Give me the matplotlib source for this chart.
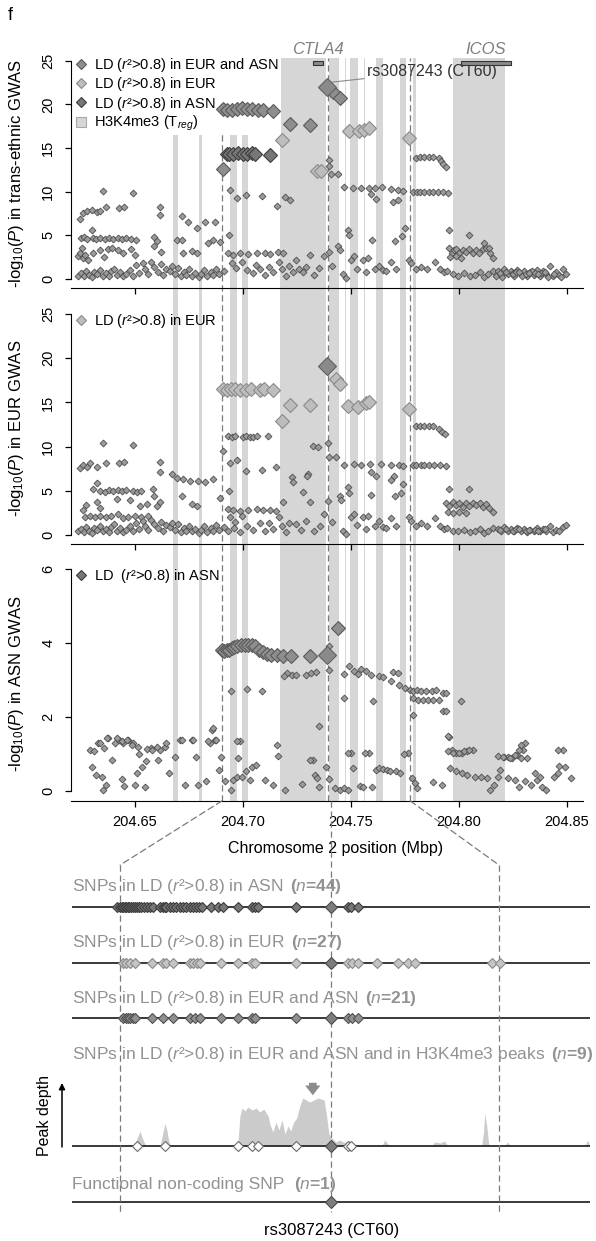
import matplotlib
matplotlib.use('Agg')
import matplotlib.pyplot as plt
from matplotlib.lines import Line2D
from matplotlib.patches import ConnectionPatch

plt.rcParams['font.family'] = ['Liberation Sans', 'DejaVu Sans']
plt.rcParams['mathtext.fontset'] = 'custom'
plt.rcParams['mathtext.rm'] = 'Liberation Sans'
plt.rcParams['mathtext.it'] = 'Liberation Sans:italic'
plt.rcParams['mathtext.bf'] = 'Liberation Sans:bold'

# ---------------- data ----------------
x_ticks = [204.65, 204.70, 204.75, 204.80, 204.85]
x_tick_labels = ['204.65', '204.70', '204.75', '204.80', '204.85']

# H3K4me3 (Treg) peak regions, Mbp
band_start = [204.6676, 204.6762, 204.6797, 204.6940, 204.6996, 204.7172, 204.7398,
              204.7471, 204.7496, 204.7559, 204.7616, 204.7727, 204.7787, 204.7973]
band_end = [204.6699, 204.6766, 204.6811, 204.6973, 204.7023, 204.7385, 204.7445,
            204.7475, 204.7533, 204.7563, 204.7648, 204.7755, 204.7801, 204.8213]
# dashed guides: left edge of zoom, CT60, right edge of zoom
zoom_left, lead_x, zoom_right = 204.6902, 204.7389, 204.7775

genes = ['CTLA4', 'ICOS']
gene_start = [204.7325, 204.8010]
gene_end = [204.7370, 204.8241]

# panel 1: trans-ethnic GWAS
p1_bg_x = [204.6246, 204.6261, 204.6280, 204.6300, 204.6323, 204.6338, 204.6354, 204.6366, 204.6428, 204.6449,
           204.6493, 204.6616, 204.6616, 204.6238, 204.6246, 204.6253, 204.6261, 204.6269, 204.6284, 204.6300,
           204.6250, 204.6265, 204.6280, 204.6304, 204.6318, 204.6338, 204.6360, 204.6380, 204.6400, 204.6420,
           204.6440, 204.6460, 204.6480, 204.6505, 204.6588, 204.6601, 204.6619, 204.6590, 204.6305, 204.6340,
           204.6355, 204.6375, 204.6395, 204.6420, 204.6445, 204.6480, 204.6500, 204.6693, 204.6716, 204.6724,
           204.6763, 204.6786, 204.6716, 204.6747, 204.6786, 204.6824, 204.6871, 204.6840, 204.6863, 204.6894,
           204.6937, 204.6940, 204.6974, 204.7014, 204.7087, 204.7156, 204.7195, 204.7218, 204.6932, 204.6956,
           204.6986, 204.7025, 204.7064, 204.7102, 204.7125, 204.7164, 204.7187, 204.6948, 204.6970, 204.6995,
           204.7020, 204.7045, 204.7060, 204.7080, 204.7100, 204.7120, 204.7140, 204.7165, 204.7180, 204.7200,
           204.7215, 204.7230, 204.7246, 204.7260, 204.7277, 204.7308, 204.7290, 204.7330, 204.7350, 204.7377,
           204.7400, 204.7410, 204.7439, 204.7447, 204.7462, 204.7477, 204.7485, 204.7493, 204.7500, 204.7516,
           204.7530, 204.7555, 204.7570, 204.7580, 204.7598, 204.7610, 204.7632, 204.7647, 204.7663, 204.7685,
           204.7706, 204.7710, 204.7737, 204.7748, 204.7770, 204.7780, 204.7800, 204.7825, 204.7850, 204.7890,
           204.7910, 204.7930, 204.7470, 204.7508, 204.7547, 204.7582, 204.7613, 204.7644, 204.7686, 204.7717,
           204.7740, 204.7593, 204.7616, 204.7694, 204.7717, 204.7786, 204.7805, 204.7820, 204.7840, 204.7860,
           204.7879, 204.7902, 204.7925, 204.7948, 204.7802, 204.7820, 204.7840, 204.7860, 204.7879, 204.7906,
           204.7917, 204.7928, 204.7940, 204.7400, 204.7400, 204.7408, 204.7439, 204.7954, 204.7967, 204.7975,
           204.7987, 204.8002, 204.8018, 204.8033, 204.8048, 204.8064, 204.8079, 204.8094, 204.8110, 204.8126,
           204.8145, 204.8157, 204.7960, 204.7985, 204.8010, 204.7956, 204.8048, 204.8118, 204.8141, 204.7945,
           204.7970, 204.7995, 204.8025, 204.8050, 204.8075, 204.8095, 204.8115, 204.8135, 204.8158, 204.8170,
           204.8180, 204.8195, 204.8210, 204.8225, 204.8240, 204.8255, 204.8270, 204.8285, 204.8300, 204.8315,
           204.8330, 204.8345, 204.8360, 204.8375, 204.8390, 204.8405, 204.8420, 204.8435, 204.8450, 204.8465,
           204.8480, 204.8495, 204.8200, 204.8250, 204.8290, 204.8340, 204.8380, 204.8410, 204.8440, 204.8470,
           204.6235, 204.6250, 204.6262, 204.6275, 204.6288, 204.6300, 204.6312, 204.6325, 204.6340, 204.6352,
           204.6365, 204.6378, 204.6390, 204.6405, 204.6418, 204.6430, 204.6445, 204.6460, 204.6475, 204.6490,
           204.6505, 204.6520, 204.6535, 204.6548, 204.6560, 204.6575, 204.6590, 204.6605, 204.6620, 204.6632,
           204.6645, 204.6660, 204.6672, 204.6685, 204.6700, 204.6712, 204.6725, 204.6738, 204.6750, 204.6765,
           204.6780, 204.6795, 204.6808, 204.6820, 204.6835, 204.6850, 204.6862, 204.6875, 204.6890, 204.6910,
           204.8188, 204.8218, 204.8248, 204.8262, 204.8278, 204.8308, 204.8322, 204.8352, 204.8368, 204.8398]
p1_bg_y = [6.9, 7.6, 7.8, 7.9, 7.7, 7.8, 10.1, 8.3, 8.1, 8.3,
           9.9, 8.2, 7.3, 2.6, 3.0, 3.5, 2.4, 2.8, 2.2, 5.6,
           4.7, 4.8, 4.6, 4.7, 4.6, 4.7, 4.6, 4.7, 4.6, 4.7,
           4.6, 4.7, 4.6, 4.5, 4.8, 4.3, 3.1, 3.8, 3.0, 3.3,
           2.5, 3.4, 3.5, 3.3, 3.0, 3.4, 2.8, 4.5, 4.5, 3.0,
           3.2, 3.0, 7.2, 6.5, 5.8, 6.5, 6.5, 4.1, 4.5, 4.2,
           5.0, 10.2, 9.3, 9.6, 9.5, 8.4, 9.4, 9.1, 3.0, 2.8,
           3.0, 2.9, 3.0, 3.0, 2.9, 3.1, 3.0, 1.8, 1.3, 2.0,
           1.0, 0.7, 1.6, 1.2, 0.5, 1.4, 0.8, 1.9, 1.1, 0.4,
           1.5, 0.8, 2.2, 1.2, 0.8, 2.8, 1.4, 0.5, 1.3, 2.6,
           3.1, 1.5, 3.8, 3.3, 0.6, 0.1, 5.6, 5.0, 2.2, 2.6,
           1.2, 2.2, 0.8, 2.4, 4.5, 1.1, 1.5, 1.0, 0.9, 2.0,
           4.3, 1.1, 4.9, 5.8, 2.2, 1.8, 1.1, 1.4, 1.1, 2.0,
           1.1, 0.8, 10.5, 10.4, 10.4, 10.4, 10.4, 10.5, 10.3, 10.2,
           10.1, 9.7, 9.2, 8.8, 9.1, 10.0, 10.0, 10.0, 10.0, 10.0,
           10.0, 10.0, 10.0, 9.8, 13.9, 14.0, 14.0, 14.0, 14.0, 13.9,
           13.5, 13.2, 12.8, 13.6, 12.9, 12.0, 12.0, 3.5, 3.0, 3.3,
           3.4, 3.0, 3.3, 3.1, 3.4, 3.0, 3.3, 3.0, 3.4, 3.5,
           3.0, 2.4, 2.5, 2.6, 2.4, 5.6, 5.0, 4.1, 3.5, 0.9,
           0.6, 0.4, 0.7, 0.3, 0.5, 0.8, 0.2, 0.6, 0.9, 0.4,
           0.9, 0.5, 1.1, 0.6, 0.9, 0.4, 1.0, 0.6, 0.9, 0.3,
           0.8, 0.5, 1.0, 0.4, 0.9, 0.6, 1.5, 0.3, 0.8, 0.5,
           1.1, 0.6, 0.2, 0.7, 0.3, 0.9, 0.7, 0.2, 0.6, 0.2,
           0.4, 0.7, 0.3, 0.9, 0.5, 0.2, 0.8, 0.6, 1.0, 0.4,
           0.7, 0.3, 0.9, 1.2, 0.5, 0.8, 0.3, 0.6, 1.0, 0.4,
           1.6, 0.7, 1.8, 1.1, 0.6, 1.9, 1.4, 0.8, 1.7, 0.5,
           1.2, 0.9, 1.5, 0.6, 1.3, 0.3, 0.8, 0.5, 1.1, 0.4,
           0.7, 0.2, 0.6, 1.0, 0.3, 0.8, 0.5, 1.2, 0.6, 0.9,
           0.7, 0.8, 0.6, 0.8, 0.8, 0.6, 0.7, 0.7, 0.6, 0.8]
p1_both_x = [204.6906, 204.6925, 204.6948, 204.6974, 204.6994, 204.7017, 204.7040, 204.7071, 204.7094, 204.7141,
             204.6906, 204.7218, 204.7308, 204.7419, 204.7447]
p1_both_y = [19.5, 19.4, 19.4, 19.5, 19.6, 19.5, 19.5, 19.4, 19.3, 19.2,
             12.6, 17.7, 17.6, 21.4, 20.7]
p1_eur_x = [204.7179, 204.7343, 204.7360, 204.7493, 204.7539, 204.7562, 204.7582, 204.7768]
p1_eur_y = [15.9, 12.4, 12.4, 17.0, 16.9, 17.1, 17.3, 16.1]
p1_asn_x = [204.6925, 204.6937, 204.6956, 204.6979, 204.6999, 204.7020, 204.7040, 204.7056, 204.7125]
p1_asn_y = [14.3, 14.3, 14.3, 14.4, 14.3, 14.3, 14.4, 14.3, 14.2]

# panel 2: EUR GWAS
p2_bg_x = [204.6246, 204.6261, 204.6280, 204.6292, 204.6323, 204.6354, 204.6366, 204.6428, 204.6449, 204.6493,
           204.6616, 204.6616, 204.6304, 204.6323, 204.6338, 204.6360, 204.6380, 204.6400, 204.6415, 204.6420,
           204.6440, 204.6460, 204.6477, 204.6490, 204.6510, 204.6530, 204.6585, 204.6590, 204.6523, 204.6554,
           204.6601, 204.6616, 204.6323, 204.6338, 204.6275, 204.6260, 204.6270, 204.6292, 204.6315, 204.6340,
           204.6365, 204.6390, 204.6420, 204.6445, 204.6470, 204.6500, 204.6530, 204.6560, 204.6716, 204.6763,
           204.6786, 204.6670, 204.6693, 204.6724, 204.6755, 204.6793, 204.6824, 204.6863, 204.6894, 204.6906,
           204.6937, 204.6940, 204.6974, 204.7014, 204.7087, 204.7153, 204.7118, 204.7184, 204.6932, 204.6956,
           204.6986, 204.7025, 204.7064, 204.7094, 204.7125, 204.7153, 204.6932, 204.6948, 204.6963, 204.6999,
           204.7014, 204.7033, 204.7048, 204.7067, 204.7225, 204.7232, 204.7300, 204.7296, 204.7277, 204.7311,
           204.7323, 204.7346, 204.7393, 204.7400, 204.7431, 204.7485, 204.7493, 204.7447, 204.7454, 204.7393,
           204.7470, 204.7516, 204.7547, 204.7586, 204.7640, 204.7686, 204.7724, 204.7740, 204.7786, 204.7802,
           204.7825, 204.7840, 204.7863, 204.7886, 204.7913, 204.7940, 204.7593, 204.7616, 204.7686, 204.7701,
           204.7743, 204.7593, 204.7706, 204.7732, 204.7956, 204.8048, 204.7802, 204.7820, 204.7840, 204.7860,
           204.7879, 204.7906, 204.7922, 204.7937, 204.7940, 204.7956, 204.7971, 204.7987, 204.8002, 204.8018,
           204.8033, 204.8048, 204.8064, 204.8079, 204.8095, 204.8110, 204.8126, 204.8141, 204.8157, 204.7950,
           204.7971, 204.8002, 204.8033, 204.7246, 204.7270, 204.7290, 204.7330, 204.7355, 204.7377, 204.7410,
           204.7462, 204.7477, 204.7500, 204.7516, 204.7530, 204.7555, 204.7570, 204.7580, 204.7610, 204.7632,
           204.7647, 204.7663, 204.7685, 204.7710, 204.7770, 204.7780, 204.7800, 204.7825, 204.7850, 204.7890,
           204.7910, 204.7930, 204.7945, 204.7970, 204.7995, 204.8025, 204.8050, 204.8075, 204.8095, 204.8115,
           204.8135, 204.8158, 204.8180, 204.8195, 204.8210, 204.8225, 204.8240, 204.8255, 204.8270, 204.8285,
           204.8300, 204.8315, 204.8330, 204.8345, 204.8360, 204.8375, 204.8390, 204.8405, 204.8420, 204.8435,
           204.8450, 204.8465, 204.8480, 204.8495, 204.6940, 204.6965, 204.6995, 204.7020, 204.7045, 204.7080,
           204.7100, 204.7120, 204.7140, 204.7165, 204.7180, 204.7200, 204.7215, 204.6930, 204.6960, 204.6985,
           204.6235, 204.6250, 204.6262, 204.6275, 204.6288, 204.6300, 204.6312, 204.6325, 204.6340, 204.6352,
           204.6365, 204.6378, 204.6390, 204.6405, 204.6418, 204.6430, 204.6445, 204.6460, 204.6475, 204.6490,
           204.6505, 204.6520, 204.6535, 204.6548, 204.6560, 204.6575, 204.6590, 204.6605, 204.6620, 204.6632,
           204.6645, 204.6660, 204.6672, 204.6685, 204.6700, 204.6712, 204.6725, 204.6738, 204.6750, 204.6765,
           204.6780, 204.6795, 204.6808, 204.6820, 204.6835, 204.6850, 204.6862, 204.6875, 204.6890, 204.6910,
           204.8188, 204.8218, 204.8248, 204.8262, 204.8278, 204.8308, 204.8322, 204.8352, 204.8368, 204.8398]
p2_bg_y = [7.6, 7.9, 7.7, 8.1, 7.7, 10.4, 8.1, 8.1, 8.3, 10.2,
           8.3, 7.1, 5.2, 5.9, 5.0, 4.9, 5.1, 5.0, 4.1, 5.1,
           5.0, 5.1, 4.0, 5.0, 4.9, 5.0, 5.2, 4.4, 3.3, 3.5,
           3.3, 3.7, 3.7, 3.1, 3.4, 2.8, 2.0, 2.1, 2.0, 2.2,
           2.0, 2.2, 2.4, 1.9, 2.0, 2.1, 2.0, 2.2, 4.4, 3.5,
           3.3, 6.9, 6.5, 6.3, 6.1, 6.1, 6.0, 6.3, 4.2, 9.5,
           5.0, 8.1, 8.5, 7.2, 7.4, 7.7, 11.2, 3.7, 2.9, 2.8,
           2.7, 2.8, 2.9, 2.8, 2.8, 2.7, 11.2, 11.1, 11.2, 11.1,
           11.2, 11.1, 11.1, 11.2, 6.6, 6.0, 6.9, 6.7, 4.9, 3.7,
           10.1, 9.9, 10.4, 8.8, 8.8, 5.4, 4.7, 4.4, 4.0, 3.8,
           7.9, 8.0, 7.9, 8.0, 8.0, 7.9, 7.9, 7.8, 7.9, 7.9,
           7.9, 7.9, 7.9, 7.9, 7.9, 7.8, 7.1, 6.7, 6.2, 6.7,
           5.8, 4.5, 4.4, 4.7, 5.2, 5.2, 12.3, 12.3, 12.3, 12.3,
           12.3, 12.0, 11.7, 11.4, 3.6, 3.3, 3.7, 3.4, 3.6, 3.2,
           3.6, 3.3, 3.6, 3.4, 3.6, 3.2, 3.5, 3.0, 2.6, 2.6,
           2.5, 2.6, 2.5, 1.2, 0.6, 1.6, 0.4, 1.0, 2.4, 1.5,
           0.5, 0.1, 2.0, 2.4, 1.1, 2.0, 0.7, 2.2, 1.0, 1.6,
           0.9, 0.8, 1.9, 1.0, 2.0, 1.6, 1.0, 1.3, 1.0, 1.9,
           1.0, 0.7, 0.8, 0.5, 0.4, 0.6, 0.3, 0.5, 0.7, 0.2,
           0.5, 0.8, 0.7, 0.4, 0.9, 0.5, 0.7, 0.4, 0.8, 0.5,
           0.7, 0.3, 0.6, 0.4, 0.8, 0.4, 0.7, 0.5, 1.0, 0.3,
           0.6, 0.4, 0.9, 1.1, 2.0, 1.5, 2.1, 1.0, 0.6, 1.3,
           0.5, 1.4, 0.7, 2.0, 1.0, 0.3, 1.4, 0.4, 0.8, 0.3,
           0.4, 0.7, 0.3, 0.9, 0.5, 0.2, 0.8, 0.6, 1.0, 0.4,
           0.7, 0.3, 0.9, 1.2, 0.5, 0.8, 0.3, 0.6, 1.0, 0.4,
           1.4, 0.7, 1.6, 1.0, 0.6, 1.7, 1.2, 0.8, 1.5, 0.5,
           1.1, 0.9, 1.4, 0.6, 1.2, 0.3, 0.8, 0.5, 1.0, 0.4,
           0.7, 0.2, 0.6, 1.0, 0.3, 0.8, 0.5, 1.1, 0.6, 0.9,
           0.6, 0.7, 0.5, 0.7, 0.7, 0.5, 0.6, 0.6, 0.5, 0.7]
p2_eur_x = [204.6906, 204.6925, 204.6943, 204.6963, 204.6986, 204.7014, 204.7036, 204.7079, 204.7098, 204.7141,
            204.7179, 204.7218, 204.7308, 204.7431, 204.7447, 204.7485, 204.7531, 204.7570, 204.7582, 204.7768]
p2_eur_y = [16.5, 16.4, 16.5, 16.5, 16.4, 16.4, 16.5, 16.4, 16.5, 16.4,
            12.9, 14.7, 14.7, 17.7, 17.1, 14.6, 14.5, 14.9, 15.0, 14.2]

# panel 3: ASN GWAS
p3_bg_x = [204.6292, 204.6311, 204.6329, 204.6357, 204.6375, 204.6408, 204.6301, 204.6320, 204.6348, 204.6366,
           204.6352, 204.6426, 204.6445, 204.6468, 204.6491, 204.6514, 204.6394, 204.6440, 204.6449, 204.6500,
           204.6547, 204.6509, 204.6532, 204.6551, 204.6574, 204.6616, 204.6607, 204.6639, 204.6644, 204.6658,
           204.6686, 204.6709, 204.6732, 204.6764, 204.6783, 204.6792, 204.6829, 204.6848, 204.6857, 204.6871,
           204.6889, 204.6899, 204.6917, 204.6945, 204.6954, 204.6973, 204.6977, 204.6986, 204.6996, 204.7014,
           204.7033, 204.7042, 204.7061, 204.7102, 204.7139, 204.7195, 204.7273, 204.7324, 204.7334, 204.7343,
           204.7352, 204.7385, 204.7398, 204.7426, 204.7449, 204.7468, 204.7486, 204.7500, 204.7509, 204.7542,
           204.7556, 204.7584, 204.7597, 204.7616, 204.7630, 204.7648, 204.7667, 204.7681, 204.7709, 204.7727,
           204.7764, 204.7783, 204.7796, 204.7806, 204.7880, 204.7922, 204.7954, 204.7968, 204.7986, 204.8014,
           204.8037, 204.8065, 204.7959, 204.7986, 204.8014, 204.8037, 204.8074, 204.8102, 204.8130, 204.8144,
           204.8162, 204.8181, 204.8209, 204.8227, 204.8246, 204.8269, 204.8297, 204.8306, 204.8315, 204.8190,
           204.8227, 204.8260, 204.8278, 204.8306, 204.8334, 204.8362, 204.8385, 204.8403, 204.8440, 204.8459,
           204.8482, 204.8491, 204.8519, 204.8352, 204.8375, 204.8289, 204.8465, 204.8457, 204.8180, 204.8203,
           204.7202, 204.7225, 204.7190, 204.6943, 204.7017, 204.7087, 204.6863, 204.6716, 204.6770, 204.6840,
           204.6875, 204.6971, 204.7156, 204.7164, 204.7246, 204.7292, 204.7315, 204.7339, 204.7396, 204.7470,
           204.7490, 204.7516, 204.7531, 204.7547, 204.7570, 204.7593, 204.7632, 204.7650, 204.7686, 204.7693,
           204.7717, 204.7724, 204.7748, 204.7771, 204.7789, 204.7805, 204.7825, 204.7848, 204.7876, 204.7894,
           204.7925, 204.7940, 204.7786, 204.7809, 204.7832, 204.7856, 204.7879, 204.7906, 204.7925, 204.7940,
           204.8010, 204.7470, 204.7604, 204.7786, 204.7351, 204.7948, 204.7485, 204.7567, 204.7744, 204.7308,
           204.7948, 204.7971, 204.8002, 204.8025, 204.8048, 204.8234, 204.8257, 204.8277, 204.8288, 204.7400,
           204.6338, 204.6369, 204.6415, 204.6439, 204.6462, 204.6485, 204.6554, 204.6577, 204.6600, 204.6520]
p3_bg_y = [1.11, 1.07, 1.29, 1.15, 1.42, 1.29, 0.66, 0.43, 0.39, 0.16,
           0.02, 1.38, 1.29, 1.38, 1.29, 1.18, 0.84, 0.32, 0.14, 0.16,
           0.12, 0.48, 0.66, 0.82, 1.15, 1.11, 0.85, 1.18, 1.29, 0.48,
           0.93, 1.38, 0.16, 1.38, 0.93, 0.16, 0.28, 1.29, 1.66, 1.38,
           0.57, 0.93, 0.28, 0.03, 0.30, 0.39, 0.89, 1.34, 0.39, 0.53,
           0.30, 0.66, 0.71, 0.30, 0.16, 0.03, 0.19, 0.84, 0.43, 0.34,
           0.12, 0.66, 0.32, 0.08, 0.03, 0.08, 0.03, 1.02, 0.61, 0.14,
           0.12, 1.02, 0.12, 0.57, 0.61, 0.59, 0.57, 0.53, 0.53, 0.48,
           1.02, 0.34, 0.21, 0.08, 0.23, 0.16, 1.47, 1.11, 1.03, 1.02,
           1.07, 1.10, 0.61, 0.55, 0.48, 0.43, 0.39, 0.39, 0.34, 0.03,
           0.16, 0.39, 0.93, 0.93, 0.89, 0.98, 1.11, 1.29, 0.89, 0.57,
           0.34, 0.30, 0.12, 0.26, 0.16, 0.30, 0.12, 0.03, 0.39, 0.48,
           1.11, 0.66, 0.34, 0.48, 0.39, 1.23, 0.67, 1.12, 0.94, 0.92,
           3.19, 3.14, 3.10, 2.69, 2.76, 2.71, 1.70, 1.39, 1.39, 1.34,
           1.39, 1.34, 1.25, 0.94, 3.14, 3.14, 3.19, 3.21, 3.26, 3.17,
           3.37, 3.23, 3.17, 3.30, 3.23, 3.14, 3.10, 3.08, 2.96, 3.21,
           3.19, 2.87, 2.78, 2.74, 2.69, 2.74, 2.69, 2.69, 2.69, 2.74,
           2.65, 2.65, 2.51, 2.47, 2.47, 2.47, 2.47, 2.47, 2.15, 2.15,
           2.42, 2.51, 2.42, 2.06, 1.75, 1.48, 1.03, 1.03, 1.00, 0.85,
           1.07, 1.03, 1.03, 1.07, 1.12, 0.89, 0.98, 1.12, 0.89, 3.91,
           1.30, 1.43, 1.43, 1.34, 1.39, 1.23, 1.14, 1.12, 1.20, 1.00]
p3_both_x = [204.6902, 204.6912, 204.6925, 204.6937, 204.6948, 204.6959, 204.6974, 204.6989, 204.7010, 204.7025,
             204.7040, 204.7056, 204.7076, 204.7094, 204.7110, 204.7128, 204.7156, 204.7187, 204.7221, 204.7308,
             204.7439]
p3_both_y = [3.82, 3.77, 3.80, 3.82, 3.86, 3.89, 3.91, 3.94, 3.95, 3.95,
             3.93, 3.91, 3.82, 3.75, 3.71, 3.68, 3.66, 3.64, 3.64, 3.64,
             4.41]

lead_y = [22.0, 19.1, 3.66]   # rs3087243 (CT60) in the three GWAS

# lower part: SNP sets on the zoomed region
asn_snps = [204.6895, 204.6902, 204.6906, 204.6909, 204.6913, 204.6915, 204.6919, 204.6922, 204.6927, 204.6932,
            204.6936, 204.6941, 204.6945, 204.6950, 204.6957, 204.6964, 204.6971, 204.6978, 204.6994, 204.7001,
            204.7005, 204.7008, 204.7017, 204.7024, 204.7031, 204.7040, 204.7047, 204.7054, 204.7063, 204.7070,
            204.7077, 204.7084, 204.7091, 204.7111, 204.7127, 204.7139, 204.7173, 204.7206, 204.7213, 204.7220,
            204.7307, 204.7427, 204.7434, 204.7450]
eur_snps = [204.6908, 204.6915, 204.6925, 204.6936, 204.6975, 204.7001, 204.7008, 204.7024, 204.7063, 204.7070,
            204.7079, 204.7086, 204.7134, 204.7173, 204.7206, 204.7213, 204.7307, 204.7427, 204.7436, 204.7450,
            204.7494, 204.7542, 204.7565, 204.7581, 204.7759, 204.7777]
both_snps = [204.6908, 204.6915, 204.6920, 204.6925, 204.6932, 204.6936, 204.6975, 204.7001, 204.7024, 204.7063,
             204.7075, 204.7086, 204.7134, 204.7173, 204.7206, 204.7213, 204.7307, 204.7427, 204.7436, 204.7450]
peak_snps = [204.6941, 204.7005, 204.7173, 204.7206, 204.7220, 204.7307, 204.7427, 204.7434]

peak_x = [204.6791, 204.6934, 204.6938, 204.6943, 204.6948, 204.6952, 204.6957, 204.6961,
          204.6994, 204.6998, 204.7003, 204.7005, 204.7010, 204.7014, 204.7019,
          204.7173, 204.7178, 204.7183, 204.7190, 204.7196, 204.7206, 204.7215, 204.7224, 204.7233,
          204.7243, 204.7247, 204.7254, 204.7261, 204.7268, 204.7275, 204.7282, 204.7289, 204.7295,
          204.7302, 204.7309, 204.7316, 204.7323, 204.7339, 204.7358, 204.7372, 204.7378, 204.7383,
          204.7390, 204.7399, 204.7408, 204.7420, 204.7431, 204.7443, 204.7454,
          204.7505, 204.7512, 204.7519, 204.7528, 204.7620, 204.7627, 204.7639, 204.7650, 204.7657,
          204.7735, 204.7740, 204.7742, 204.7747, 204.7752, 204.7788, 204.7795, 204.7802,
          204.7973, 204.7980, 204.7984]
peak_depth = [0, 0, 4, 10, 15, 9, 4, 0,
              0, 8, 18, 23, 15, 5, 0,
              0, 30, 38, 35, 39, 36, 38, 34, 37,
              30, 22, 14, 24, 16, 26, 12, 20, 15,
              24, 28, 40, 48, 44, 48, 46, 30, 12,
              8, 4, 6, 3, 5, 2, 0,
              0, 6, 2, 0, 0, 4, 3, 5, 0,
              0, 15, 33, 20, 0, 0, 4, 0,
              0, 6, 0]

# ---------------- layout ----------------
W, H = 596, 1241
fig = plt.figure(figsize=(W / 100, H / 100), dpi=100)


def box(l, t, r, b):
    return [l / W, 1 - b / H, (r - l) / W, (b - t) / H]


XLIM = (204.6204, 204.8574)
SMALL_FC, SMALL_EC = '#9a9a9a', '#4d4d4d'
BOTH_FC, BOTH_EC = '#8e8e8e', '#5a5a5a'
EUR_FC, EUR_EC = '#bdbdbd', '#8a8a8a'
ASN_FC, ASN_EC = '#777777', '#3c3c3c'
BAND = '#d6d6d6'
DASH = dict(color='#7a7a7a', lw=0.9, ls=(0, (5, 3)))
GREY_TXT = '#929292'

# background strip with peaks and guides, shared by the three panels
bg = fig.add_axes(box(71, 58, 583, 801))
bg.set_xlim(XLIM)
bg.set_ylim(0, 1)
bg.axis('off')
for s, e in zip(band_start, band_end):
    bg.axvspan(s, e, color=BAND, lw=0)
for xv in (zoom_left, 204.7393, zoom_right):
    bg.axvline(xv, **DASH)

ax1 = fig.add_axes(box(71, 58, 583, 288))
ax2 = fig.add_axes(box(71, 312, 583, 544))
ax3 = fig.add_axes(box(71, 567, 583, 801))


def style_panel(ax, ylim, yticks, ylabel):
    ax.set_facecolor('none')
    ax.set_xlim(XLIM)
    ax.set_ylim(ylim)
    for s in ('top', 'right'):
        ax.spines[s].set_visible(False)
    ax.spines['left'].set_bounds(yticks[0], yticks[-1])
    ax.set_yticks(yticks)
    ax.set_xticks(x_ticks)
    ax.set_xticklabels(x_tick_labels)
    ax.tick_params(axis='both', direction='out', length=4.3, width=0.9, labelsize=10.5)
    ax.tick_params(axis='y', pad=7, labelrotation=90)
    ax.tick_params(axis='x', pad=6)
    plt.setp(ax.get_yticklabels(), va='center')
    ax.set_ylabel(ylabel, fontsize=12)
    ax.yaxis.set_label_coords(-0.088, 0.5)


def draw_points(ax, bx, by, groups, ly):
    ax.plot(bx, by, ls='none', marker='D', ms=3.5, mfc=SMALL_FC, mec=SMALL_EC, mew=0.6, zorder=3)
    for gx, gy, fc, ec in groups:
        ax.plot(gx, gy, ls='none', marker='D', ms=6.8, mfc=fc, mec=ec, mew=0.8, zorder=4)
    ax.plot([lead_x], [ly], ls='none', marker='D', ms=9.5, mfc='#8a8a8a', mec='#606060', mew=0.8, zorder=5)


style_panel(ax1, (-1.03, 25.31), [0, 5, 10, 15, 20, 25], r'-log$_{10}$($P$) in trans-ethnic GWAS')
style_panel(ax2, (-1.02, 25.23), [0, 5, 10, 15, 20, 25], r'-log$_{10}$($P$) in EUR GWAS')
style_panel(ax3, (-0.27, 6.05), [0, 2, 4, 6], r'-log$_{10}$($P$) in ASN GWAS')
ax1.tick_params(axis='x', labelbottom=False)
ax2.tick_params(axis='x', labelbottom=False)

draw_points(ax1, p1_bg_x, p1_bg_y,
            [(p1_both_x, p1_both_y, BOTH_FC, BOTH_EC),
             (p1_asn_x, p1_asn_y, ASN_FC, ASN_EC),
             (p1_eur_x, p1_eur_y, EUR_FC, EUR_EC)], lead_y[0])
draw_points(ax2, p2_bg_x, p2_bg_y, [(p2_eur_x, p2_eur_y, EUR_FC, EUR_EC)], lead_y[1])
draw_points(ax3, p3_bg_x, p3_bg_y, [(p3_both_x, p3_both_y, BOTH_FC, BOTH_EC)], lead_y[2])

ax3.set_xlabel('Chromosome 2 position (Mbp)', fontsize=11.5)
ax3.xaxis.set_label_coords((336 - 71) / 512, -0.17)

# genes and lead SNP label
for g, s, e in zip(genes, gene_start, gene_end):
    ax1.fill_between([s, e], 24.55, 25.0, facecolor='#8a8a8a', edgecolor='#333333', lw=0.8, zorder=6, clip_on=False)
    ax1.text((s + e) / 2, 26.3, g, ha='center', va='center', fontsize=12, style='italic',
             color='#808080', clip_on=False)
ax1.annotate('rs3087243 (CT60)', xy=(lead_x + 0.0006, 22.5), xytext=(204.7574, 23.8),
             fontsize=11.5, color='#333333', ha='left', va='center',
             arrowprops=dict(arrowstyle='-', color='#8a8a8a', lw=0.8, shrinkA=0, shrinkB=0))


# legends
def mk(fc, ec, m='D', ms=5.5):
    return Line2D([], [], ls='none', marker=m, ms=ms, mfc=fc, mec=ec, mew=0.8)


LEG = dict(loc='upper left', fontsize=10.5, handlelength=0.7, handletextpad=0.5,
           labelspacing=0.08, borderpad=0.15, borderaxespad=0.2, fancybox=False)
leg1 = ax1.legend([mk(BOTH_FC, BOTH_EC), mk(EUR_FC, EUR_EC), mk(ASN_FC, ASN_EC), mk(BAND, '#a8a8a8', 's', 6.5)],
                  [r'LD ($r$²>0.8) in EUR and ASN', r'LD ($r$²>0.8) in EUR', r'LD ($r$²>0.8) in ASN',
                   r'H3K4me3 (T$_{reg}$)'],
                  bbox_to_anchor=(0.0, 1.03), frameon=True, **LEG)
leg1.get_frame().set_facecolor('white')
leg1.get_frame().set_edgecolor('none')
leg1.get_frame().set_alpha(1)
leg1.set_zorder(2.5)
ax2.legend([mk(EUR_FC, EUR_EC)], [r'LD ($r$²>0.8) in EUR'], bbox_to_anchor=(0.0, 1.02),
           frameon=False, **LEG)
ax3.legend([mk(ASN_FC, ASN_EC)], [r'LD  ($r$²>0.8) in ASN'], bbox_to_anchor=(0.0, 1.02),
           frameon=False, **LEG)

fig.text(8 / W, 1 - 15 / H, 'f', fontsize=13, va='center', ha='left')

# ---------------- lower part: zoomed SNP tracks ----------------
pk = fig.add_axes(box(72, 1080, 590, 1146))
pk.set_xlim(204.6791, 204.7985)
pk.set_ylim(0, 66)
pk.axis('off')
pk.fill_between(peak_x, peak_depth, color='#cbcbcb', lw=0)

low = fig.add_axes(box(72, 801, 590, 1241))
low.set_facecolor('none')
low.set_xlim(204.6791, 204.7985)
low.set_ylim(1241, 801)
low.axis('off')

row_y = [907, 963, 1018, 1146, 1202]
text_y = [887, 943, 999, 1055, 1184]
row_text = ['SNPs in LD ($r$²>0.8) in ASN  ', 'SNPs in LD ($r$²>0.8) in EUR  ',
            'SNPs in LD ($r$²>0.8) in EUR and ASN  ',
            'SNPs in LD ($r$²>0.8) in EUR and ASN and in H3K4me3 peaks  ',
            'Functional non-coding SNP  ']
row_n = ['44', '27', '21', '9', '1']
row_sets = [(asn_snps, ASN_FC, '#3c3c3c'), (eur_snps, '#c4c4c4', '#8a8a8a'),
            (both_snps, '#909090', '#505050'), (peak_snps, 'white', '#6a6a6a'), ([], 'white', 'white')]

for ry, ty, txt, n, (snps, fc, ec) in zip(row_y, text_y, row_text, row_n, row_sets):
    low.plot([204.6791, 204.7985], [ry, ry], color='#2a2a2a', lw=1.3, zorder=2, solid_capstyle='butt')
    t = low.text(0, ty, txt, transform=low.get_yaxis_transform(), ha='left', va='center',
                 fontsize=12.5, color=GREY_TXT)
    low.annotate('($n$=' + n + ')', xy=(1, 0.5), xycoords=t, ha='left', va='center',
                 fontsize=12.5, color=GREY_TXT, fontweight='bold')
    if snps:
        low.plot(snps, [ry] * len(snps), ls='none', marker='D', ms=4.6, mfc=fc, mec=ec, mew=0.8, zorder=3)
    low.plot([lead_x], [ry], ls='none', marker='D', ms=6.2, mfc='#7d7d7d', mec='#4a4a4a', mew=0.8, zorder=4)

# zoom guides
low.plot([lead_x, lead_x], [801, 1212], **DASH)
for xv in (zoom_left, zoom_right):
    con = ConnectionPatch(xyA=(xv, 0), coordsA=ax3.get_xaxis_transform(),
                          xyB=(xv, 865), coordsB=low.transData, **DASH)
    fig.add_artist(con)
    low.plot([xv, xv], [865, 1212], **DASH)

low.annotate('', xy=(204.7346, 1098), xytext=(204.7346, 1080),
             arrowprops=dict(arrowstyle='simple,head_width=1.1,head_length=0.7,tail_width=0.55',
                             color='#8c8c8c', lw=0))
low.annotate('', xy=(62 / W, 1 - 1083 / H), xytext=(62 / W, 1 - 1147 / H), xycoords='figure fraction',
             textcoords='figure fraction',
             arrowprops=dict(arrowstyle='-|>', color='black', lw=1.1, mutation_scale=9, shrinkA=0, shrinkB=0))
fig.text(45 / W, 1 - 1115 / H, 'Peak depth', rotation=90, ha='center', va='center', fontsize=11.5)
low.text(lead_x, 1230, 'rs3087243 (CT60)', ha='center', va='center', fontsize=12)

fig.savefig('out.png', dpi=100)
